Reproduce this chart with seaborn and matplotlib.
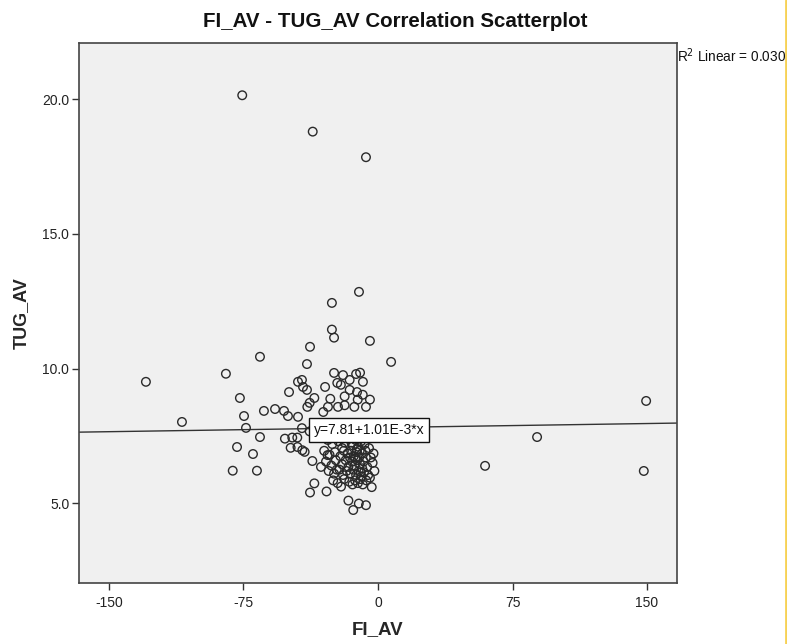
import numpy as np
import pandas as pd
import matplotlib
matplotlib.use("Agg")
import matplotlib.pyplot as plt
from matplotlib.lines import Line2D
import seaborn as sns

# FI_AV (x) and TUG_AV (y) observations
fi_av = [
    -75.7, -36.4, -6.7,
    -25.7, -10.6, -25.7, -24.5, -4.5, -37.9, -65.8, 7.3, -39.6,
    -84.8, -24.5, -19.5, -12.2, -10.0, -8.4, -22.7, -20.7, -15.8,
    -129.4, -44.6, -42.4, -41.8, -39.6, -29.5, -49.6, -15.8, -11.7, -8.5,
    -18.6, -77.0, -35.5, -26.6, -11.3, -4.5, -38.1, -39.4, -27.9, -22.3,
    -18.6, -13.2, -6.7, -63.6, -57.4, -52.4, -50.2, -30.5, -74.7, -44.6,
    -109.3, -42.4, -73.6, -38.1, -65.8, -51.9, -47.8, -45.0,
    -48.7, -44.9, -42.2, -40.9, -78.6, -69.7, -81.0, -67.5,
    -36.6, -31.8, -35.5, -37.9, -28.7, -20.6, -3.5, -16.5, -10.7, -6.7, -13.8,
    149.5, 148.2, 59.7, 88.7,
    -18.0, -8.0, -28.1,
    -28.0, -25.5, -22.0, -18.5, -16.0, -14.0, -12.5, -11.0, -9.5, -7.5, -5.0,
    -30.0, -27.0, -24.0, -21.0, -19.0, -17.0, -15.0, -13.5, -12.0, -10.5, -9.0, -7.0, -4.0, -2.5,
    -29.0, -26.0, -23.5, -20.0, -18.0, -16.5, -14.5, -13.0, -11.5, -10.0, -8.0, -6.0, -3.0,
    -27.5, -24.5, -21.5, -19.5, -17.5, -15.5, -13.8, -12.2, -10.8, -9.2, -7.8, -5.5, -2.0,
    -25.0, -22.5, -18.8, -16.0, -14.2, -12.8, -11.2, -9.8, -8.5, -6.5, -4.5,
    -20.0, -14.8, -10.2, -8.8, -12.6, -15.6, -11.8, -9.6, -6.8, -23.0,
]
tug_av = [
    20.15, 18.80, 17.85,
    12.44, 12.85, 11.45, 11.15, 11.03, 10.81, 10.44, 10.25, 10.17,
    9.81, 9.84, 9.76, 9.80, 9.85, 9.51, 9.47, 9.40, 9.58,
    9.51, 9.51, 9.58, 9.32, 9.21, 9.32, 9.13, 9.21, 9.13, 9.03,
    8.97, 8.91, 8.91, 8.88, 8.85, 8.85, 8.73, 8.58, 8.58, 8.58,
    8.64, 8.58, 8.58, 8.43, 8.50, 8.43, 8.24, 8.39, 8.24, 8.21,
    8.02, 7.79, 7.80, 7.67, 7.46, 7.40, 7.44, 7.44,
    7.06, 7.09, 6.97, 6.91, 7.09, 6.83, 6.21, 6.21,
    6.57, 6.35, 5.74, 5.40, 5.44, 5.62, 5.60, 5.10, 4.99, 4.93, 4.75,
    8.80, 6.20, 6.39, 7.46,
    7.75, 7.65, 6.79,
    7.35, 7.20, 7.30, 7.25, 7.40, 7.15, 7.35, 7.10, 7.30, 7.20, 7.05,
    6.95, 6.80, 6.90, 6.75, 6.95, 6.85, 6.95, 6.75, 6.90, 6.70, 6.85, 6.95, 6.70, 6.85,
    6.55, 6.40, 6.60, 6.45, 6.60, 6.35, 6.55, 6.40, 6.60, 6.45, 6.55, 6.35, 6.50,
    6.20, 6.10, 6.25, 6.05, 6.20, 6.10, 6.25, 6.05, 6.20, 6.00, 6.15, 6.05, 6.20,
    5.85, 5.75, 5.90, 5.80, 5.70, 5.85, 5.75, 5.90, 5.70, 5.85, 5.95,
    7.05, 7.25, 6.95, 6.30, 6.65, 6.70, 7.00, 6.15, 6.70, 6.25,
]

# Linear fit reported on the chart
fit_intercept = 7.81
fit_slope = 1.01e-3
r_squared = 0.030

x_ticks = [-150, -75, 0, 75, 150]
y_ticks = [5.0, 10.0, 15.0, 20.0]

df = pd.DataFrame({"FI_AV": fi_av, "TUG_AV": tug_av})

sns.set_style("white")
plt.rcParams["font.family"] = ["Liberation Sans", "DejaVu Sans"]

fig = plt.figure(figsize=(7.87, 6.44), dpi=100)
ax = fig.add_axes([0.1004, 0.0947, 0.7598, 0.8385])
ax.set_facecolor("#f0f0f0")

xlim = (-166.7, 166.7)
ylim = (2.04, 22.09)

sns.scatterplot(data=df, x="FI_AV", y="TUG_AV", ax=ax, marker="o", s=38,
                facecolors="none", edgecolors="#2a2a2a", linewidths=1.0,
                zorder=3)

fit_x = np.array(xlim)
fit_df = pd.DataFrame({"x": fit_x, "y": fit_intercept + fit_slope * fit_x})
sns.lineplot(data=fit_df, x="x", y="y", ax=ax, color="#333333", lw=1.0, zorder=2)

ax.text(-35.8, 7.72, "y=7.81+1.01E-3*x", ha="left", va="center", fontsize=10,
        color="#111111", zorder=5,
        bbox=dict(boxstyle="square,pad=0.35", fc="white", ec="#111111", lw=1.0))

ax.set_xlim(xlim)
ax.set_ylim(ylim)
ax.set_xticks(x_ticks)
ax.set_xticklabels([str(t) for t in x_ticks])
ax.set_yticks(y_ticks)
ax.set_yticklabels([f"{t:.1f}" for t in y_ticks])
ax.tick_params(axis="both", direction="out", length=5, width=1, color="#333333",
               labelsize=10, labelcolor="#222222", pad=4)
ax.tick_params(axis="x", bottom=True)
ax.tick_params(axis="y", left=True, pad=2)
for sp in ax.spines.values():
    sp.set_color("#444444")
    sp.set_linewidth(1.2)

ax.set_xlabel("FI_AV", fontsize=13.5, fontweight="bold")
ax.set_ylabel("TUG_AV", fontsize=13, fontweight="bold")
ax.xaxis.set_label_coords(0.5, -0.07)
ax.yaxis.set_label_coords(-0.083, 0.5)

fig.text(0.502, 0.967, "FI_AV - TUG_AV Correlation Scatterplot", ha="center",
         va="center", fontsize=14.8, fontweight="bold", color="#111111")
fig.text(0.860, 0.914, "R$^2$ Linear = 0.030", ha="left", va="center",
         fontsize=9.8, color="#111111")

fig.add_artist(Line2D([0.9985, 0.9985], [0, 1], transform=fig.transFigure,
                      color="#f7d155", lw=2))

fig.savefig("out.png", dpi=100, facecolor="white")
